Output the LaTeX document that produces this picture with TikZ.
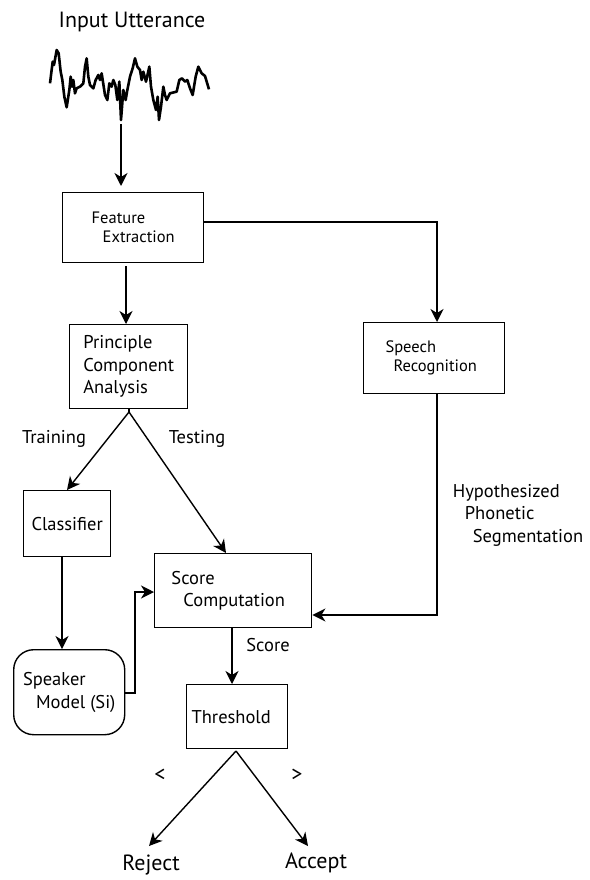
\documentclass[tikz,border=0pt]{standalone}
\usepackage{fontspec}
\setmainfont{PT Sans}
\usetikzlibrary{arrows.meta}
\begin{document}
\begin{tikzpicture}[x=1pt,y=-1pt,
  box/.style={draw,line width=1.4pt,inner sep=0pt,anchor=north west,align=left},
  rbox/.style={box,rounded corners=20pt},
  lbl/.style={inner sep=0pt,align=left},
  big/.style={font=\fontsize{22}{24}\selectfont},
  med/.style={font=\fontsize{18.5}{22.5}\selectfont},
  sml/.style={font=\fontsize{16.5}{19}\selectfont},
  conn/.style={line width=1.4pt},
  arr/.style={conn,-{Stealth[length=13pt,width=13pt,inset=4pt]}}]
\useasboundingbox (0,0) rectangle (589,880);
% title and waveform
\node[lbl,big] (title) at (132,22) {Input Utterance};
\draw[line width=2.6pt,line join=round,shift={(30,0)},scale=1/3]
 (60,250)--(68,185)--(72,195)--(80,150)--(86,160)--(92,215)--(97,240)--(103,290)--(110,322)--(118,270)--(122,230)--(126,260)--(130,240)--(135,280)--(140,265)--(150,260)--(160,250)--(165,200)--(170,175)--(175,230)--(180,255)--(190,265)--(197,240)--(205,225)--(210,240)--(215,220)--(225,285)--(232,300)--(238,250)--(245,260)--(250,240)--(256,255)--(262,300)--(268,245)--(273,360)--(280,270)--(287,300)--(292,270)--(300,230)--(308,205)--(315,175)--(322,200)--(330,210)--(335,240)--(340,215)--(348,245)--(358,200)--(363,260)--(370,300)--(378,330)--(383,290)--(387,360)--(393,320)--(400,260)--(405,285)--(410,300)--(420,280)--(440,275)--(448,240)--(456,235)--(465,245)--(472,240)--(480,265)--(488,285)--(497,230)--(505,200)--(515,220)--(525,228)--(537,268);
\coordinate (wave) at (121,124);
% boxes
\node[box,sml,minimum width=141,minimum height=70] (fe) at (62,192) {Feature\\\hspace*{11pt}Extraction};
\node[box,med,minimum width=118,minimum height=84] (pca) at (69,324) {Principle\\Component\\Analysis};
\node[box,sml,minimum width=141,minimum height=71] (sr) at (363,322) {Speech\\\hspace*{8pt}Recognition\hspace*{6pt}};
\node[box,med,minimum width=87,minimum height=66] (cl) at (23,490) {Classifier};
\node[box,med,minimum width=157,minimum height=74] (sc) at (154,553) {Score\\\hspace*{12pt}Computation\hspace*{10pt}};
\node[rbox,med,minimum width=111,minimum height=85] (sm) at (13,649) {Speaker\\\hspace*{13pt}Model (Si)};
\node[box,med,minimum width=101,minimum height=64] (th) at (186,684) {Threshold\hspace*{12pt}};
\coordinate (apex) at (129,412);
\coordinate (tapex) at (236,751);
% connectors
\draw[arr] (wave) -- (121,186);
\draw[arr] (fe.south -| 126,0) ++(0,3) -- (126,324);
\draw[arr] (fe.east |- 0,222) -| (sr.north -| 437,0);
\draw[conn] (pca.south -| apex) -- (apex);
\draw[arr] (apex) -- (67,490);
\draw[arr] (apex) -- (226,553);
\draw[arr] (cl.south -| 62,0) -- (sm.north -| 62,0);
\draw[arr] (sm.east |- 0,693) -- (135,693) |- (sc.west |- 0,592);
\draw[arr] (sr.south -| 437,0) |- (sc.east |- 0,615);
\draw[arr] (sc.south -| 232,0) -- (th.north -| 232,0);
\coordinate (rej) at (149,846);
\coordinate (acc) at (308,846);
\draw[arr] (tapex) -- (rej);
\draw[arr] (tapex) -- (acc);
% labels
\node[lbl,med] (ltr) at (54,439) {Training};
\node[lbl,med] (lte) at (197,439) {Testing};
\node[lbl,med] (hps) at (518,515) {Hypothesized\\\hspace*{12pt}Phonetic\\\hspace*{20pt}Segmentation};
\node[lbl,med] (lsc) at (268,645) {Score};
\node[lbl,big] (llt) at (160,775) {<};
\node[lbl,big] (lgt) at (297,775) {>};
\node[lbl,big] (lrej) at (151,865) {Reject};
\node[lbl,big] (lacc) at (316,863) {Accept};
\end{tikzpicture}
\end{document}
